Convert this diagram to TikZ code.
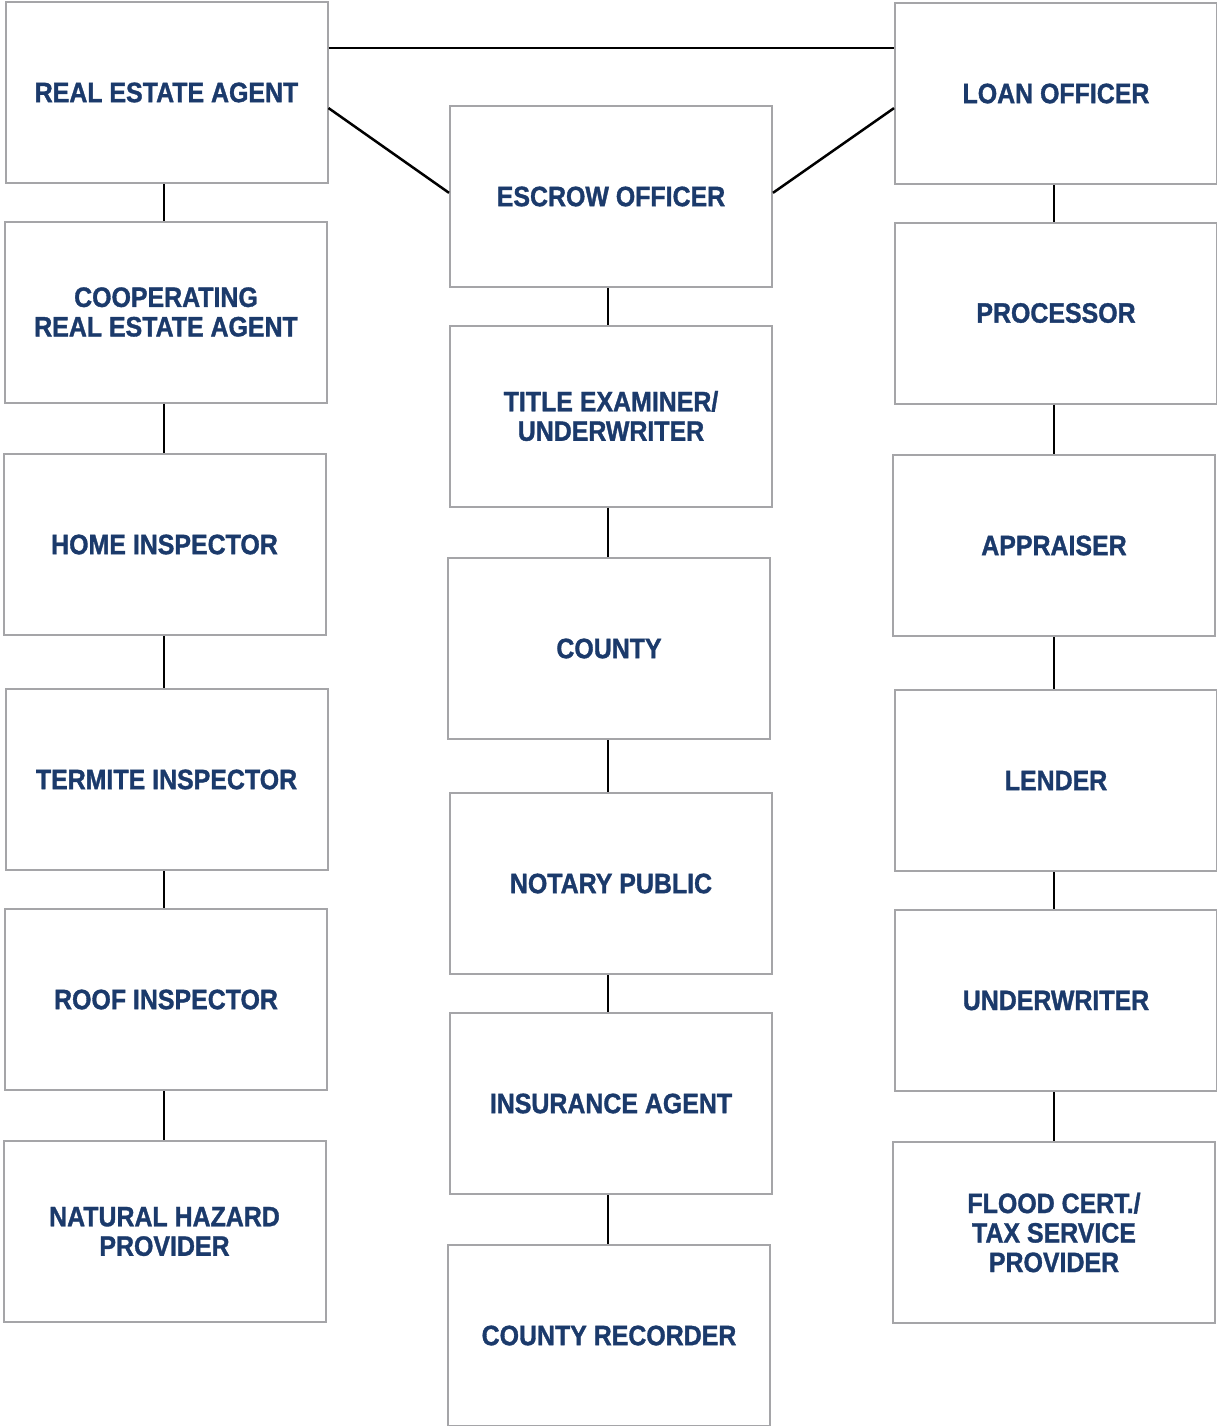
\documentclass[tikz,border=0pt]{standalone}
\usepackage{fontspec}
\newfontfamily\lbl{Liberation Sans}[FakeStretch=0.89, BoldFeatures={FakeBold=1.2}]
\usetikzlibrary{calc}
\definecolor{txtblue}{RGB}{27,58,107}
\definecolor{boxgray}{RGB}{165,165,168}
\begin{document}
\begin{tikzpicture}[x=1pt,y=-1pt,
  box/.style={draw=boxgray, line width=2pt, minimum width=322pt, minimum height=181pt,
    inner sep=0pt, align=center, text=txtblue, fill=white,
    font=\lbl\bfseries\fontsize{28}{29.5}\selectfont},
  conn/.style={line width=2.5pt, draw=black}]
\useasboundingbox (0,0) rectangle (1217,1426);
% left column
\node[box] (rea)   at (166.5,92.5)  {REAL ESTATE AGENT};
\node[box] (coop)  at (166,312)     {COOPERATING\\REAL ESTATE AGENT};
\node[box] (home)  at (164.5,544.5) {HOME INSPECTOR};
\node[box] (term)  at (166.5,779.5) {TERMITE INSPECTOR};
\node[box] (roof)  at (166,999.5)   {ROOF INSPECTOR};
\node[box] (nat)   at (164.5,1231.5){NATURAL HAZARD\\PROVIDER};
% middle column
\node[box] (esc)   at (611,196.5)   {ESCROW OFFICER};
\node[box] (title) at (611,416)     {TITLE EXAMINER/\\UNDERWRITER};
\node[box] (cnty)  at (609,648.5)   {COUNTY};
\node[box] (nota)  at (611,883.5)   {NOTARY PUBLIC};
\node[box] (ins)   at (611,1103.5)  {INSURANCE AGENT};
\node[box] (rec)   at (609,1335.5)  {COUNTY RECORDER};
% right column
\node[box] (lo)    at (1056,93.5)   {LOAN OFFICER};
\node[box] (proc)  at (1056,313)    {PROCESSOR};
\node[box] (appr)  at (1054,545.5)  {APPRAISER};
\node[box] (lend)  at (1056,780.5)  {LENDER};
\node[box] (uw)    at (1056,1000.5) {UNDERWRITER};
\node[box] (flood) at (1054,1232.5) {FLOOD CERT./\\TAX SERVICE\\PROVIDER};
% column line positions
\coordinate (lx) at (164,0);
\coordinate (mx) at (608,0);
\coordinate (rx) at (1054,0);
\coordinate (topy) at (0,48);
% top connectors
\draw[conn] (rea.east |- topy) -- (lo.west |- topy);
\draw[conn] ($(rea.north east)!0.585!(rea.south east)$) -- ($(esc.north west)!0.48!(esc.south west)$);
\draw[conn] ($(lo.north west)!0.58!(lo.south west)$) -- ($(esc.north east)!0.48!(esc.south east)$);
% left chain
\draw[conn] (rea.south -| lx) -- (coop.north -| lx);
\draw[conn] (coop.south -| lx) -- (home.north -| lx);
\draw[conn] (home.south -| lx) -- (term.north -| lx);
\draw[conn] (term.south -| lx) -- (roof.north -| lx);
\draw[conn] (roof.south -| lx) -- (nat.north -| lx);
% middle chain
\draw[conn] (esc.south -| mx) -- (title.north -| mx);
\draw[conn] (title.south -| mx) -- (cnty.north -| mx);
\draw[conn] (cnty.south -| mx) -- (nota.north -| mx);
\draw[conn] (nota.south -| mx) -- (ins.north -| mx);
\draw[conn] (ins.south -| mx) -- (rec.north -| mx);
% right chain
\draw[conn] (lo.south -| rx) -- (proc.north -| rx);
\draw[conn] (proc.south -| rx) -- (appr.north -| rx);
\draw[conn] (appr.south -| rx) -- (lend.north -| rx);
\draw[conn] (lend.south -| rx) -- (uw.north -| rx);
\draw[conn] (uw.south -| rx) -- (flood.north -| rx);
\end{tikzpicture}
\end{document}
